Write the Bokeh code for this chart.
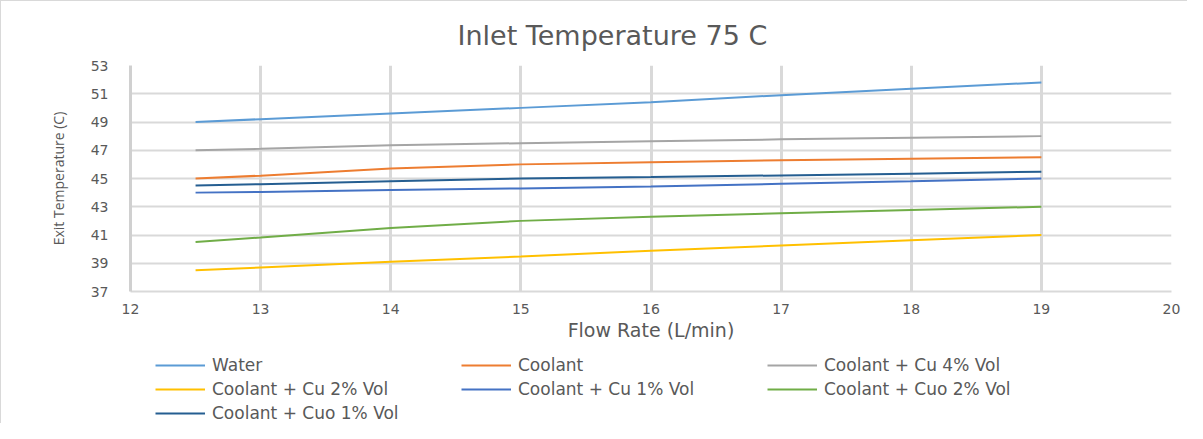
from bokeh.plotting import figure
from bokeh.layouts import column
from bokeh.models import Range1d, FixedTicker, Legend, LegendItem
from bokeh.embed import file_html
from bokeh.resources import INLINE

flow = [12.5, 13, 14, 15, 16, 17, 18, 19]
water = [49.0, 49.2, 49.6, 50.0, 50.4, 50.9, 51.35, 51.8]
coolant = [45.0, 45.2, 45.7, 46.0, 46.15, 46.3, 46.4, 46.5]
cu4 = [47.0, 47.1, 47.35, 47.5, 47.63, 47.77, 47.88, 48.0]
cu2 = [38.5, 38.7, 39.1, 39.48, 39.88, 40.25, 40.62, 41.0]
cu1 = [44.0, 44.05, 44.18, 44.3, 44.44, 44.62, 44.8, 45.0]
cuo2 = [40.5, 40.82, 41.5, 42.0, 42.3, 42.54, 42.77, 43.0]
cuo1 = [44.5, 44.6, 44.8, 45.0, 45.1, 45.22, 45.34, 45.48]

series_names = ["Water", "Coolant", "Coolant + Cu 4% Vol", "Coolant + Cu 2% Vol",
                "Coolant + Cu 1% Vol", "Coolant + Cuo 2% Vol", "Coolant + Cuo 1% Vol"]
series_values = [water, coolant, cu4, cu2, cu1, cuo2, cuo1]
colors = ["#5B9BD5", "#ED7D31", "#A5A5A5", "#FFC000", "#4472C4", "#70AD47", "#255E91"]

x_ticks = [12, 13, 14, 15, 16, 17, 18, 19, 20]
y_ticks = [37, 39, 41, 43, 45, 47, 49, 51, 53]

p = figure(width=1187, height=342, output_backend="svg", toolbar_location=None,
           x_range=Range1d(12, 20), y_range=Range1d(37, 53),
           min_border_left=129, min_border_right=17, min_border_top=64, min_border_bottom=47,
           title="Inlet Temperature 75 C")
p.styles = {"border-left": "1px solid #D9D9D9", "border-top": "1px solid #D9D9D9"}

p.title.align = "left"
p.title.text_font = "DejaVu Sans"
p.title.text_font_size = "27px"
p.title.text_font_style = "normal"
p.title.text_color = "#595959"
p.title.offset = 327
p.title.standoff = 29

p.outline_line_color = None
p.xaxis.ticker = FixedTicker(ticks=x_ticks)
p.yaxis.ticker = FixedTicker(ticks=y_ticks)
for ax in (p.xaxis[0], p.yaxis[0]):
    ax.major_tick_line_color = None
    ax.minor_tick_line_color = None
    ax.major_label_text_font = "DejaVu Sans"
    ax.major_label_text_font_size = "14px"
    ax.major_label_text_color = "#595959"
    ax.axis_label_text_font_style = "normal"
    ax.axis_label_text_color = "#595959"
p.xaxis.axis_line_color = "#D9D9D9"
p.xaxis.axis_line_width = 2
p.yaxis.axis_line_color = "#D0D0D0"
p.yaxis.axis_line_width = 3
p.xaxis.major_label_standoff = 6
p.yaxis.major_label_standoff = 16

p.xaxis.axis_label = "Flow Rate (L/min)"
p.xaxis.axis_label_text_font = "DejaVu Sans"
p.xaxis.axis_label_text_font_size = "19px"
p.xaxis.axis_label_standoff = 2
p.yaxis.axis_label = "Exit Temperature (C)"
p.yaxis.axis_label_text_font = "Open Sans"
p.yaxis.axis_label_text_font_size = "14px"
p.yaxis.axis_label_standoff = 20

p.xgrid.grid_line_color = "#D9D9D9"
p.xgrid.grid_line_width = 3
p.ygrid.grid_line_color = "#D9D9D9"
p.ygrid.grid_line_width = 2

for name, vals, col in zip(series_names, series_values, colors):
    p.line(flow, vals, line_color=col, line_width=2)

# legend panel underneath the chart; its renderers lie outside its (empty) view
p2 = figure(width=1187, height=81, output_backend="svg", toolbar_location=None,
            x_axis_type=None, y_axis_type=None, min_border=0,
            x_range=Range1d(0, 1), y_range=Range1d(0, 1))
p2.outline_line_color = None
p2.grid.visible = False
p2.styles = {"border-left": "1px solid #D9D9D9"}

items = []
for name, vals, col in zip(series_names, series_values, colors):
    r = p2.line(flow, vals, line_color=col, line_width=2)
    items.append(LegendItem(label=name, renderers=[r]))

legend = Legend(items=items, orientation="horizontal", ncols=3,
                location=(25, 0), label_text_font="DejaVu Sans",
                label_text_font_size="17px", label_text_color="#595959",
                glyph_width=50, glyph_height=20, label_standoff=7, label_width=245,
                spacing=4, padding=0, margin=0, border_line_color=None,
                label_height=20, background_fill_alpha=0)
p2.add_layout(legend, "center")

layout = column(p, p2, spacing=0)
open("out.html", "w").write(file_html(layout, INLINE))
